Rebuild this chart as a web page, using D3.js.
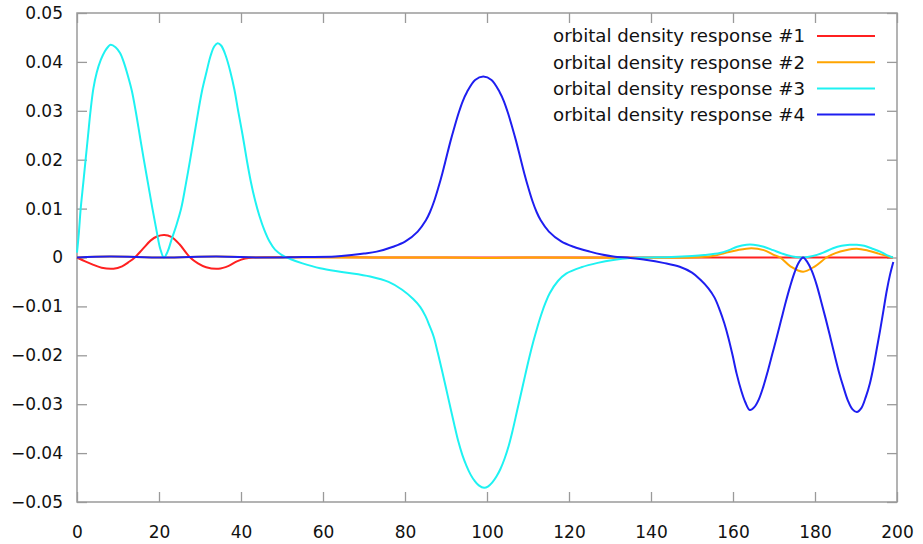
<!DOCTYPE html>
<html>
<head>
<meta charset="utf-8">
<script src="https://cdn.jsdelivr.net/npm/d3@7"></script>
<style>
  body { margin: 0; background: #fff; }
  text { font-family: "DejaVu Sans", Verdana, sans-serif; fill: #111; }
</style>
</head>
<body>
<div id="main"></div>
<script>
// series names (legend)
var seriesNames = ["orbital density response #1", "orbital density response #2",
                   "orbital density response #3", "orbital density response #4"];

// tick labels
var xTicks = [0, 20, 40, 60, 80, 100, 120, 140, 160, 180, 200];
var yTicks = [-0.05, -0.04, -0.03, -0.02, -0.01, 0, 0.01, 0.02, 0.03, 0.04, 0.05];

// series values as [x, y]
var resp1 = [[0,0],[2,-0.0008],[4,-0.0015],[6,-0.0021],[8.9,-0.0023],[11,-0.0018],[12.5,-0.001],
  [14.1,0],[16,0.0017],[18,0.0035],[19.5,0.0043],[21.3,0.0046],[23,0.0042],[25,0.0027],[27.6,0],
  [29.5,-0.0012],[31.5,-0.002],[34.5,-0.0023],[37,-0.0017],[39,-0.0008],[41,-0.0002],[43,0],
  [80,0],[120,0],[160,0],[199,0]];

var resp2 = [[0,0],[8,0.0002],[21,0],[34,0.0002],[45,0],[90,0],[100,-0.0001],[110,0],[150,0],
  [155,0.0003],[158,0.0009],[161,0.0015],[164.5,0.0019],[167.5,0.0015],[169.8,0.0006],[171.5,0],
  [174,-0.0018],[177.1,-0.0029],[180,-0.0018],[182.8,0],[185,0.0009],[187.5,0.0015],[190.2,0.0018],
  [193,0.0014],[195.5,0.0008],[197.5,0.0003],[199,0]];

var resp3 = [[0,0.001],[0.45,0.005],[0.9,0.010],[1.5,0.015],[2.1,0.020],[2.7,0.025],[3.3,0.030],
  [4.0,0.0346],[4.8,0.0378],[5.8,0.0404],[6.8,0.0422],[7.6,0.0431],[8.2,0.0435],[9.4,0.043],
  [10.5,0.0418],[11.5,0.0397],[12.5,0.0369],[13.4,0.034],[14.3,0.030],[15.3,0.025],[16.3,0.020],
  [17.35,0.015],[18.4,0.010],[19.4,0.0055],[20.3,0.0018],[21.2,0],[22.1,0.0012],[23.0,0.0035],
  [24.2,0.0065],[25.4,0.010],[26.5,0.0148],[27.6,0.020],[28.6,0.025],[29.6,0.030],[30.6,0.0345],
  [31.6,0.038],[32.6,0.0413],[33.5,0.0432],[34.3,0.0438],[35.2,0.0433],[36.3,0.0412],[37.4,0.038],
  [38.4,0.0343],[39.3,0.030],[40.4,0.025],[41.4,0.020],[42.4,0.0155],[43.4,0.0118],[44.5,0.0085],
  [45.7,0.0056],[47,0.0032],[48.3,0.0016],[50,0.0005],[52,-0.0003],[55,-0.0012],[59.3,-0.0022],
  [65,-0.003],[71.5,-0.0039],[76,-0.005],[79.3,-0.0066],[82,-0.0085],[83.7,-0.0101],[85,-0.012],
  [86,-0.014],[87,-0.0162],[88,-0.0195],[89,-0.023],[90,-0.0267],[91,-0.0304],[92,-0.0341],
  [93,-0.0376],[94,-0.0404],[95,-0.0426],[96,-0.0444],[97,-0.0457],[98,-0.0466],[99.3,-0.0471],
  [100.3,-0.0468],[101.3,-0.046],[102.3,-0.0448],[103.3,-0.0432],[104.3,-0.0411],[105.3,-0.0385],
  [106.3,-0.0352],[107.3,-0.0315],[108.3,-0.0278],[109.3,-0.0241],[110.3,-0.0205],[111.3,-0.0172],
  [112.3,-0.0142],[113.3,-0.0115],[114.3,-0.0092],[115.3,-0.0073],[117.3,-0.0048],[119.3,-0.0033],
  [123,-0.002],[127,-0.0011],[130.8,-0.0005],[135,-0.0001],[139,0],[145,0.0001],[150,0.0003],
  [153,0.0005],[156.8,0.0009],[159,0.0015],[161,0.0022],[163.3,0.0026],[165,0.0026],[167.5,0.0022],
  [169.8,0.0015],[172,0.0008],[174.5,0.0002],[177.1,0],[179.5,0.0003],[182,0.001],[184.4,0.0019],
  [186.5,0.0024],[188.5,0.0026],[190.2,0.0026],[192,0.0024],[194,0.0018],[195.9,0.0012],
  [197.5,0.0005],[199,0]];

var resp4 = [[0,0],[8,0.0002],[21,0],[34,0.0002],[45,0],[55,0.0001],[63,0.0002],[67,0.0005],
  [70,0.0008],[73.1,0.0012],[77.1,0.0022],[80.1,0.0033],[83.1,0.0053],[85.1,0.0076],[86.1,0.0093],
  [87.1,0.0115],[88.1,0.0142],[89.1,0.0172],[90.1,0.0205],[91.1,0.0238],[92.1,0.0268],[93.1,0.0296],
  [94.1,0.032],[95.1,0.0338],[97.1,0.0363],[99.1,0.037],[101.1,0.0363],[103.1,0.0338],[104.1,0.032],
  [105.1,0.0296],[106.1,0.0268],[107.1,0.0238],[108.1,0.0205],[109.1,0.0172],[110.1,0.0142],
  [111.1,0.0115],[112.1,0.0093],[113.1,0.0076],[115.1,0.0053],[118.1,0.0033],[121.1,0.0022],
  [125.1,0.0012],[128,0.0006],[130.8,0.0002],[135,-0.0001],[139,-0.0005],[143,-0.0011],[147,-0.0019],
  [150,-0.0031],[152,-0.0045],[154,-0.0063],[155.5,-0.0082],[156.8,-0.0108],[157.9,-0.0135],
  [158.9,-0.0165],[159.9,-0.02],[160.9,-0.0238],[162,-0.0272],[163,-0.0296],[164.1,-0.0312],
  [165.2,-0.0306],[166.3,-0.029],[167.4,-0.0264],[168.5,-0.0232],[169.6,-0.0197],[170.7,-0.0162],
  [171.8,-0.0126],[172.9,-0.009],[173.9,-0.006],[175,-0.0031],[176,-0.0011],[177.1,0],[178.1,-0.0009],
  [179.2,-0.0027],[180.4,-0.0056],[181.5,-0.009],[182.6,-0.0125],[183.7,-0.0162],[184.8,-0.02],
  [185.9,-0.0236],[186.9,-0.0264],[188,-0.0292],[189.1,-0.031],[190.2,-0.0316],[191.3,-0.0308],
  [192.4,-0.0285],[193.4,-0.0257],[194.3,-0.0222],[195.1,-0.0185],[195.9,-0.0148],[196.7,-0.0108],
  [197.5,-0.0068],[198.3,-0.0035],[199.1,-0.0009]];

var colors = ["#ff2020", "#ffa500", "#1ef2f2", "#1e1ef0"];

// layout
var W = 923, H = 544;
var margin = {top: 13, right: 26, bottom: 42, left: 77};
var width = W - margin.left - margin.right,
    height = H - margin.top - margin.bottom;

var x = d3.scaleLinear().domain([0, 200]).range([0, width]);
var y = d3.scaleLinear().domain([-0.05, 0.05]).range([height, 0]);

var svg = d3.select("#main").append("svg")
    .attr("width", W)
    .attr("height", H);

var g = svg.append("g")
    .attr("transform", "translate(" + margin.left + "," + margin.top + ")");

// inward ticks on all four sides
var frameColor = "#9a9a9a";
function fmtY(d) { return d === 0 ? "0" : d3.format(".2f")(d); }

var axL = g.append("g").call(d3.axisLeft(y).tickValues(yTicks).tickSize(-10).tickPadding(14).tickFormat(fmtY));
var axR = g.append("g").attr("transform", "translate(" + width + ",0)")
    .call(d3.axisRight(y).tickValues(yTicks).tickSize(-10).tickFormat(""));
var axB = g.append("g").attr("transform", "translate(0," + height + ")")
    .call(d3.axisBottom(x).tickValues(xTicks).tickSize(-10).tickPadding(24).tickFormat(d3.format("d")));
var axT = g.append("g")
    .call(d3.axisTop(x).tickValues(xTicks).tickSize(-10).tickFormat(""));

[axL, axR, axB, axT].forEach(function(a) {
    a.select(".domain").remove();
    a.selectAll("line").attr("stroke", frameColor).attr("stroke-width", 1.3);
    a.selectAll("text").style("font-size", "17px").attr("fill", "#111");
});

g.append("rect")
    .attr("width", width).attr("height", height)
    .attr("fill", "none").attr("stroke", frameColor).attr("stroke-width", 1.5);

// curves, smoothed through the read points
var line = d3.line()
    .x(function(d) { return x(d[0]); })
    .y(function(d) { return y(d[1]); })
    .curve(d3.curveCatmullRom.alpha(0.5));

[resp1, resp2, resp3, resp4].forEach(function(s, i) {
    g.append("path")
        .datum(s)
        .attr("d", line)
        .attr("fill", "none")
        .attr("stroke", colors[i])
        .attr("stroke-width", 2);
});

// legend
var legend = svg.append("g").attr("transform", "translate(805,36)");
seriesNames.forEach(function(name, i) {
    var row = legend.append("g").attr("transform", "translate(0," + (i * 26.2) + ")");
    row.append("text")
        .attr("text-anchor", "end")
        .attr("dy", "0.35em")
        .style("font-size", "18.2px")
        .text(name);
    row.append("line")
        .attr("x1", 12).attr("x2", 70)
        .attr("stroke", colors[i])
        .attr("stroke-width", 2);
});
</script>
</body>
</html>
